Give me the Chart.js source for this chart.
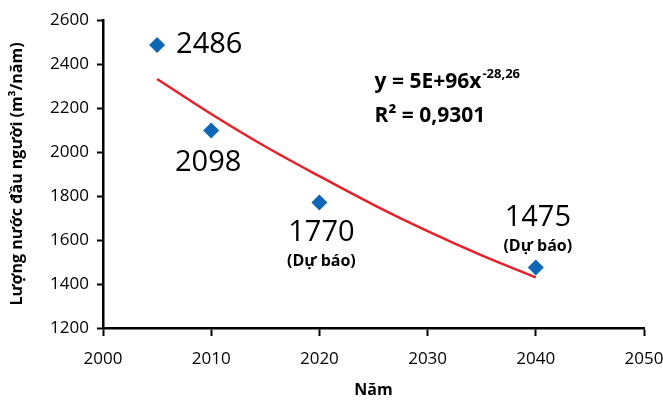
<!DOCTYPE html>
<html>
<head>
<meta charset="utf-8">
<script src="https://cdn.jsdelivr.net/npm/chart.js@4.4.1/dist/chart.umd.min.js"></script>
<style>
  html, body { margin: 0; padding: 0; background: #fff; }
  #wrap { width: 663px; height: 400px; }
</style>
</head>
<body>
<div id="wrap"><canvas id="waterChart"></canvas></div>
<script>
// observed values
var years = [2005, 2010, 2020, 2040];
var waterPerCapita = [2486, 2098, 1770, 1475];
var forecastFlags = [false, false, true, true];

// power trendline
var trendYears = [2005, 2010, 2015, 2020, 2025, 2030, 2035, 2040];
var trendValues = [2332, 2173, 2025, 1890, 1760, 1640, 1530, 1430];

var xTicks = [2000, 2010, 2020, 2030, 2040, 2050];
var yTicks = [1200, 1400, 1600, 1800, 2000, 2200, 2400, 2600];

var FONT = "'Open Sans', 'Noto Sans', sans-serif";

// label offsets (px) relative to each point
var labelPlace = [
  { dx: 19, dy: 0, align: 'left' },
  { dx: -3, dy: 32, align: 'center' },
  { dx: 2, dy: 30, align: 'center' },
  { dx: 2, dy: -50, align: 'center' }
];

var pointLabels = {
  id: 'pointLabels',
  afterDatasetsDraw: function (chart) {
    var ctx = chart.ctx;
    var xs = chart.scales.x, ys = chart.scales.y;
    ctx.save();
    ctx.fillStyle = '#000';
    ctx.textBaseline = 'middle';
    years.forEach(function (yr, i) {
      var px = xs.getPixelForValue(yr);
      var py = ys.getPixelForValue(waterPerCapita[i]);
      var p = labelPlace[i];
      ctx.font = '29px ' + FONT;
      ctx.textAlign = p.align;
      ctx.fillText(String(waterPerCapita[i]), px + p.dx, py + p.dy);
      if (forecastFlags[i]) {
        ctx.font = 'bold 16px ' + FONT;
        ctx.textAlign = 'center';
        ctx.fillText('(Dự báo)', px + p.dx, py + p.dy + 29);
      }
    });

    // trendline equation
    var ex = xs.getPixelForValue(2025.1);
    var ey = ys.getPixelForValue(2291);
    ctx.textAlign = 'left';
    ctx.textBaseline = 'alphabetic';
    ctx.font = 'bold 21px ' + FONT;
    var eq = 'y = 5E+96x';
    ctx.fillText(eq, ex, ey);
    var w = ctx.measureText(eq).width;
    ctx.font = 'bold 13px ' + FONT;
    ctx.fillText('-28,26', ex + w + 1, ey - 10);
    ctx.font = 'bold 21px ' + FONT;
    ctx.fillText('R\u00b2 = 0,9301', ex, ey + 34);
    ctx.restore();
  }
};

var ctx = document.getElementById('waterChart');

new Chart(ctx, {
  type: 'scatter',
  data: {
    datasets: [{
      label: 'Lượng nước',
      data: years.map(function (y, i) { return { x: y, y: waterPerCapita[i] }; }),
      pointStyle: 'rectRot',
      pointRadius: 8,
      backgroundColor: '#0e66b6',
      borderColor: '#0e66b6',
      borderWidth: 0,
      order: 1
    }, {
      label: 'Xu hướng',
      type: 'line',
      data: trendYears.map(function (y, i) { return { x: y, y: trendValues[i] }; }),
      borderColor: '#e8202a',
      borderWidth: 2.5,
      pointRadius: 0,
      cubicInterpolationMode: 'monotone',
      fill: false,
      order: 2
    }]
  },
  options: {
    responsive: true,
    maintainAspectRatio: false,
    animation: false,
    layout: { padding: { left: 8, right: 0, top: 20, bottom: 0 } },
    plugins: {
      legend: { display: false },
      tooltip: { enabled: false }
    },
    scales: {
      x: {
        type: 'linear',
        min: 2000,
        max: 2050,
        afterBuildTicks: function (s) { s.ticks = xTicks.map(function (v) { return { value: v }; }); },
        afterFit: function (s) { s.height = 72; s.paddingRight = 19; s.paddingLeft = 0; },
        ticks: {
          color: '#000', font: { family: FONT, size: 17 }, padding: 13,
          callback: function (v) { return String(v); }
        },
        grid: { drawOnChartArea: false, drawTicks: true, tickLength: 8, tickColor: '#000', tickWidth: 2 },
        border: { display: true, color: '#000', width: 2.5 },
        title: {
          display: true, text: 'Năm', color: '#000',
          font: { family: FONT, size: 16, weight: 'bold' },
          padding: { top: 0, bottom: 0 }
        }
      },
      y: {
        min: 1200,
        max: 2600,
        afterBuildTicks: function (s) { s.ticks = yTicks.map(function (v) { return { value: v }; }); },
        afterFit: function (s) { s.width = 95; s.paddingTop = 0; s.paddingBottom = 0; },
        ticks: {
          color: '#000', font: { family: FONT, size: 17 }, padding: 8,
          callback: function (v) { return String(v); }
        },
        grid: { drawOnChartArea: false, drawTicks: true, tickLength: 6, tickColor: '#000', tickWidth: 2 },
        border: { display: true, color: '#000', width: 2.5 },
        title: {
          display: true, text: 'Lượng nước đầu người (m³/năm)', color: '#000',
          font: { family: FONT, size: 16, weight: 'bold' },
          padding: { top: 0, bottom: 0 }
        }
      }
    }
  },
  plugins: [pointLabels]
});
</script>
</body>
</html>
